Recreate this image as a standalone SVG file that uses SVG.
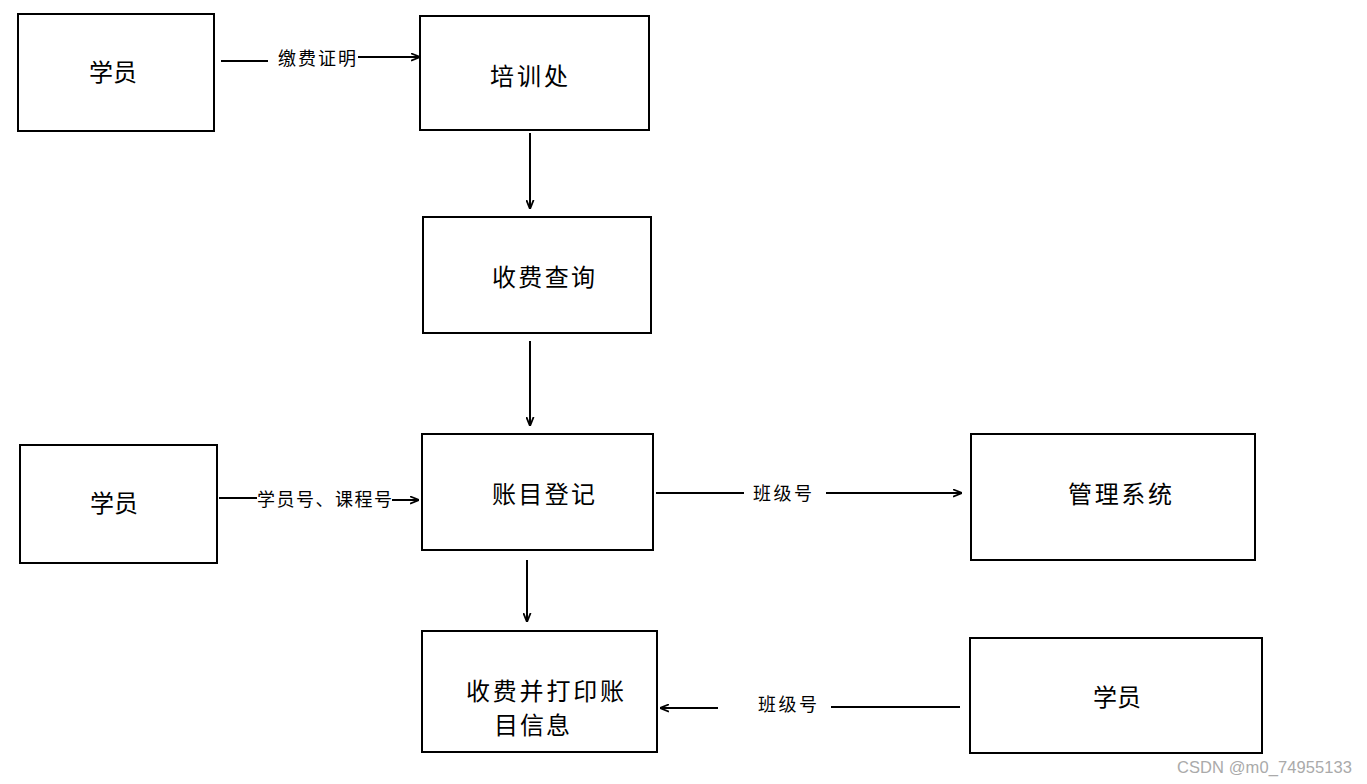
<svg xmlns="http://www.w3.org/2000/svg" width="1367" height="784" viewBox="0 0 1367 784">
<style>
.box{fill:#fff;stroke:#000;stroke-width:2}
.t{font-family:"Noto Sans CJK SC","Noto Sans",sans-serif;font-size:24px;fill:#000}
.l{font-family:"Noto Sans CJK SC","Noto Sans",sans-serif;font-size:18px;fill:#000}
.c{stroke:#000;stroke-width:2;fill:none}
</style>
<defs>
<marker id="ah2" viewBox="0 0 10 10" refX="10" refY="5" markerWidth="9" markerHeight="9" orient="auto" markerUnits="userSpaceOnUse">
<path d="M0,1 L10,5 L0,9" fill="none" stroke="#000" stroke-width="2"/>
</marker>
</defs>
<rect width="1367" height="784" fill="#fff"/>
<g id="n1"><rect class="box" x="18" y="14" width="196" height="117"/><text class="t" x="113" y="81" text-anchor="middle">学员</text></g>
<g id="n2"><rect class="box" x="420" y="16" width="229" height="114"/><text class="t" x="490" y="85" textLength="78">培训处</text></g>
<g id="n3"><rect class="box" x="423" y="217" width="228" height="116"/><text class="t" x="492" y="286" textLength="103">收费查询</text></g>
<g id="n4"><rect class="box" x="422" y="434" width="231" height="116"/><text class="t" x="492" y="503" textLength="103">账目登记</text></g>
<g id="n5"><rect class="box" x="20" y="445" width="197" height="118"/><text class="t" x="114" y="512" text-anchor="middle">学员</text></g>
<g id="n6"><rect class="box" x="971" y="434" width="284" height="126"/><text class="t" x="1068" y="503" textLength="104">管理系统</text></g>
<g id="n7"><rect class="box" x="422" y="631" width="235" height="121"/><text class="t" x="466" y="700" textLength="158">收费并打印账</text><text class="t" x="494" y="734" textLength="76">目信息</text></g>
<g id="n8"><rect class="box" x="970" y="638" width="292" height="115"/><text class="t" x="1117" y="706" text-anchor="middle">学员</text></g>
<g id="connectors">
<line class="c" x1="221" y1="61" x2="268" y2="61"/>
<text class="l" x="278" y="65" textLength="78">缴费证明</text>
<line class="c" x1="358" y1="57" x2="420" y2="57" marker-end="url(#ah2)"/>
<line class="c" x1="530" y1="133" x2="530" y2="209" marker-end="url(#ah2)"/>
<line class="c" x1="530" y1="341" x2="530" y2="426" marker-end="url(#ah2)"/>
<line class="c" x1="219" y1="498" x2="257" y2="498"/>
<text class="l" x="257" y="506" textLength="135">学员号、课程号</text>
<line class="c" x1="392" y1="500" x2="419" y2="500" marker-end="url(#ah2)"/>
<line class="c" x1="656" y1="493" x2="744" y2="493"/>
<text class="l" x="753" y="500" textLength="59">班级号</text>
<line class="c" x1="826" y1="493" x2="962" y2="493" marker-end="url(#ah2)"/>
<line class="c" x1="527" y1="560" x2="527" y2="622" marker-end="url(#ah2)"/>
<line class="c" x1="831" y1="707" x2="960" y2="707"/>
<text class="l" x="758" y="711" textLength="59">班级号</text>
<line class="c" x1="718" y1="708" x2="660" y2="708" marker-end="url(#ah2)"/>
</g>
<text x="1177" y="773" font-family="Liberation Sans,Arial,sans-serif" font-size="16.5" fill="#aaa" textLength="175">CSDN @m0_74955133</text>
</svg>
